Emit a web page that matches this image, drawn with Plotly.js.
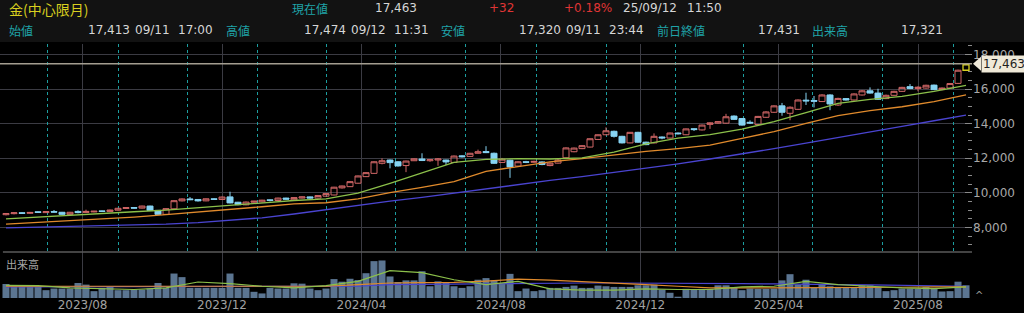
<!DOCTYPE html>
<html>
<head>
<meta charset="utf-8">
<script src="https://cdn.plot.ly/plotly-3.0.1.min.js"></script>
<style>
html,body{margin:0;padding:0;background:#000;}
#chart{width:1024px;height:313px;}
</style>
</head>
<body>
<div id="chart"></div>
<script>
// ---------------- DATA ----------------
const firstWeek = '2023-05-26';   // first weekly bar (week ending Friday)
const weekCount = 121;

const opens = [8740,8800,8850,8820,8910,8860,8920,8880,8760,8930,8870,8900,8960,8920,9000,9100,9150,9120,9240,8990,8760,9080,9540,9650,9620,9540,9660,9620,9770,9460,9310,9460,9480,9600,9560,9700,9600,9700,9770,9700,9810,9880,10290,10360,10560,10940,11130,11710,11900,11800,11580,11860,11960,11860,11900,11900,11760,12140,12110,12290,12390,12290,11760,11890,11550,11800,11770,11790,11580,11720,12030,12380,12560,12650,13090,13360,13560,13270,12890,13500,12930,12890,13230,13170,13460,13360,13710,13640,13960,14030,14030,14440,14300,14080,13950,14370,14660,15030,14600,14830,15360,15340,15280,15660,15080,15450,15370,15660,15900,15770,15450,15640,15870,16140,16030,16060,16230,15970,16060,16330,17090];
const highs = [8840,8880,8880,8900,8930,8950,9010,8900,8900,8990,9030,8960,8980,9030,9140,9170,9170,9260,9260,9010,9110,9580,9680,9760,9640,9680,9690,9790,10070,9480,9500,9540,9600,9620,9720,9720,9760,9790,9790,9870,9980,10350,10420,10680,11000,11200,11830,12000,11930,11830,11860,11990,12290,11950,12010,11920,12160,12170,12310,12500,12700,12330,12020,11920,11830,11850,11860,11820,11750,11960,12630,12620,12760,13150,13380,13790,13600,13300,13520,13530,12960,13440,13260,13480,13490,13720,13730,13950,14080,14150,14570,14480,14330,14190,14450,14720,15060,15200,15000,15400,15790,15600,15700,15700,15500,15480,15750,15950,16100,16020,15680,15900,16130,16290,16160,16250,16260,16090,16340,17120,17474];
const lows = [8700,8760,8790,8790,8850,8840,8870,8740,8740,8820,8850,8880,8900,8900,8980,9080,9090,9100,8960,8740,8740,9060,9510,9580,9500,9520,9600,9600,9400,9290,9290,9430,9450,9510,9540,9620,9580,9680,9680,9690,9790,9860,10250,10340,10540,10920,11100,11650,11420,11520,11200,11840,11840,11800,11570,11610,11740,12050,12090,12270,12300,11680,11740,10870,11520,11720,11740,11600,11540,11700,12010,12350,12530,12630,13060,13330,13200,12860,12870,12900,12760,12860,13100,13150,13380,13340,13580,13610,13700,14000,14000,14220,13890,13980,13880,14340,14630,14460,14200,14800,15080,14940,15250,14780,15030,15340,15340,15630,15740,15380,15420,15610,15840,16000,15870,16030,15940,15940,16040,16300,17050];
const closes = [8810,8850,8820,8870,8870,8920,8890,8760,8880,8860,8930,8940,8930,9010,9110,9150,9120,9240,8980,8760,9090,9550,9650,9610,9540,9660,9620,9760,9420,9320,9470,9520,9580,9560,9700,9640,9730,9770,9700,9850,9960,10330,10400,10650,10980,11170,11800,11860,11750,11560,11840,11970,11870,11920,11960,11790,12130,12090,12290,12380,12330,11710,11950,11500,11800,11770,11820,11640,11720,11900,12600,12590,12730,13130,13360,13590,13270,12890,13500,12930,12790,13270,13180,13460,13420,13700,13660,13920,14050,14120,14400,14250,13920,14040,14420,14680,15030,14660,14950,15370,15320,15300,15660,15140,15460,15370,15720,15900,15770,15410,15640,15870,16100,16030,16110,16220,15970,16060,16320,17090,17463];
const volumes = [86000,72000,72000,72000,72000,48000,58000,58000,58000,92000,82000,42000,62000,68000,48000,48000,52000,52000,58000,92000,62000,150000,128000,62000,62000,62000,62000,62000,150000,62000,62000,38000,28000,62000,58000,58000,90000,88000,58000,48000,58000,116000,100000,118000,110000,152000,226000,230000,132000,98000,108000,108000,164000,72000,102000,92000,72000,62000,72000,112000,122000,108000,88000,148000,42000,58000,42000,48000,62000,62000,68000,76000,62000,62000,76000,72000,68000,68000,68000,78000,78000,82000,52000,32000,8000,56000,52000,56000,56000,78000,78000,62000,48000,58000,56000,56000,58000,108000,146000,82000,112000,62000,82000,72000,68000,62000,62000,78000,78000,68000,42000,48000,58000,58000,56000,68000,62000,40000,42000,100000,78000];

// moving averages read every 4th bar
const maStep = 4;
const ma13 = [8500,8610,8720,8820,8910,9000,9140,9260,9420,9560,9650,9980,10550,11170,11770,11940,11980,11960,12020,12360,12830,13170,13370,13680,14120,14640,15180,15410,15580,15870,16220];
const ma26 = [8200,8290,8380,8490,8600,8740,8880,9050,9200,9360,9430,9650,10010,10320,10650,11250,11510,11790,11980,12210,12400,12560,12760,13150,13540,14020,14460,14750,14980,15270,15660];
const ma52 = [7980,8020,8060,8090,8130,8190,8280,8400,8560,8780,9040,9300,9520,9740,9990,10240,10480,10720,10940,11180,11420,11680,11960,12240,12560,12880,13190,13510,13840,14170,14500];
const volMaShort = [78000,76000,62000,56000,52000,62000,98000,88000,72000,62000,76000,102000,168000,156000,112000,82000,102000,56000,48000,48000,56000,52000,52000,68000,72000,102000,82000,72000,62000,58000,68000];
const volMaMid = [72000,72000,72000,70000,70000,68000,70000,72000,72000,72000,72000,82000,92000,94000,96000,104000,116000,110000,102000,94000,82000,72000,62000,62000,62000,62000,64000,66000,66000,68000,68000];
const volMaLong = [68000,68000,68000,68000,68000,68000,68000,68000,68000,68000,68000,72000,82000,84000,86000,86000,92000,92000,92000,92000,92000,90000,88000,88000,86000,86000,82000,80000,76000,74000,72000];

const currentPrice = 17463;
const header = {
  title: '金(中心限月)',
  nowLabel: '現在値', now: '17,463', change: '+32', changePct: '+0.18%', stamp: ['25/09/12', '11:50'],
  openLabel: '始値', open: ['17,413', '09/11', '17:00'],
  highLabel: '高値', high: ['17,474', '09/12', '11:31'],
  lowLabel: '安値', low: ['17,320', '09/11', '23:44'],
  prevLabel: '前日終値', prev: '17,431',
  volLabel: '出来高', vol: '17,321'
};

// ---------------- BUILD ----------------
const DAY = 864e5;
const t0 = Date.parse(firstWeek + 'T00:00:00Z');
const dates = [];
for (let i = 0; i < weekCount; i++) dates.push(new Date(t0 + i * 7 * DAY).toISOString().slice(0, 10));
const maDates = dates.filter((d, i) => i % maStep === 0);
const xRange = [t0 - 5.25 * DAY, t0 + (weekCount - 1) * 7 * DAY + 5.25 * DAY];

const W = 1024, H = 313, ML = 0, MR = 52, MT = 44, MB = 15;
const PW = W - ML - MR, PH = H - MT - MB;
const px = x => (x - ML) / PW;
const py = y => (H - MB - y) / PH;
const splitY = py(252);

const last = weekCount - 1;
const onlyPast = arr => arr.map((v, i) => (i < last ? v : null));
const onlyLast = arr => arr.map((v, i) => (i === last ? v : null));

const traces = [
  {type: 'candlestick', x: dates, open: onlyPast(opens), high: onlyPast(highs), low: onlyPast(lows), close: onlyPast(closes),
   xaxis: 'x', yaxis: 'y', whiskerwidth: 0,
   increasing: {line: {color: '#cf6666', width: 1}, fillcolor: 'rgba(0,0,0,0)'},
   decreasing: {line: {color: '#86d3f2', width: 1}, fillcolor: '#86d3f2'},
   hoverinfo: 'skip', showlegend: false},
  {type: 'candlestick', x: dates, open: onlyLast(opens), high: onlyLast(highs), low: onlyLast(lows), close: onlyLast(closes),
   xaxis: 'x', yaxis: 'y', whiskerwidth: 0,
   increasing: {line: {color: '#d8d020', width: 1.3}, fillcolor: 'rgba(0,0,0,0)'},
   decreasing: {line: {color: '#d8d020', width: 1.3}, fillcolor: 'rgba(0,0,0,0)'},
   hoverinfo: 'skip', showlegend: false},
  {type: 'scatter', mode: 'lines', x: maDates, y: ma52, xaxis: 'x2', yaxis: 'y', line: {color: '#4a44d0', width: 1.3}, hoverinfo: 'skip', showlegend: false},
  {type: 'scatter', mode: 'lines', x: maDates, y: ma26, xaxis: 'x2', yaxis: 'y', line: {color: '#e08a2c', width: 1.3}, hoverinfo: 'skip', showlegend: false},
  {type: 'scatter', mode: 'lines', x: maDates, y: ma13, xaxis: 'x2', yaxis: 'y', line: {color: '#8cc04a', width: 1.3}, hoverinfo: 'skip', showlegend: false},
  {type: 'bar', x: dates, y: volumes, xaxis: 'x', yaxis: 'y2', marker: {color: '#5b7591', line: {width: 0}}, hoverinfo: 'skip', showlegend: false},
  {type: 'scatter', mode: 'lines', x: maDates, y: volMaLong, xaxis: 'x', yaxis: 'y2', line: {color: '#4a44d0', width: 1.2}, hoverinfo: 'skip', showlegend: false},
  {type: 'scatter', mode: 'lines', x: maDates, y: volMaMid, xaxis: 'x', yaxis: 'y2', line: {color: '#e08a2c', width: 1.2}, hoverinfo: 'skip', showlegend: false},
  {type: 'scatter', mode: 'lines', x: maDates, y: volMaShort, xaxis: 'x', yaxis: 'y2', line: {color: '#8cc04a', width: 1.2}, hoverinfo: 'skip', showlegend: false}
];

const TEAL = '#1fa3a8', VAL = '#d6d6d6', RED = '#e03535';
const JP = 'Noto Sans CJK JP, DejaVu Sans, sans-serif';
const NUM = 'DejaVu Sans, sans-serif';
function ann(text, x, y, color, size, family, extra) {
  return Object.assign({text: text, xref: 'paper', yref: 'paper', x: px(x), y: py(y), xanchor: 'left', yanchor: 'middle',
    showarrow: false, font: {color: color, size: size, family: family}}, extra || {});
}
const annotations = [
  ann(header.title, 7, 9, '#d9cf1f', 14, JP),
  ann(header.nowLabel, 290, 8, TEAL, 12, JP),
  ann(header.now, 373, 8, VAL, 12, NUM),
  ann(header.change, 487, 8, RED, 12, NUM),
  ann(header.changePct, 562, 8, RED, 12, NUM),
  ann(header.stamp[0], 621, 8, VAL, 12, NUM),
  ann(header.stamp[1], 685, 8, VAL, 12, NUM),
  ann(header.openLabel, 7, 30, TEAL, 12, JP),
  ann(header.open[0], 86, 30, VAL, 12, NUM),
  ann(header.open[1], 133, 30, VAL, 12, NUM),
  ann(header.open[2], 176, 30, VAL, 12, NUM),
  ann(header.highLabel, 224, 30, TEAL, 12, JP),
  ann(header.high[0], 302, 30, VAL, 12, NUM),
  ann(header.high[1], 349, 30, VAL, 12, NUM),
  ann(header.high[2], 392, 30, VAL, 12, NUM),
  ann(header.lowLabel, 439, 30, TEAL, 12, JP),
  ann(header.low[0], 517, 30, VAL, 12, NUM),
  ann(header.low[1], 564, 30, VAL, 12, NUM),
  ann(header.low[2], 607, 30, VAL, 12, NUM),
  ann(header.prevLabel, 655, 30, TEAL, 12, JP),
  ann(header.prev, 756, 30, VAL, 12, NUM),
  ann(header.volLabel, 810, 30, TEAL, 12, JP),
  ann(header.vol, 899, 30, VAL, 12, NUM),
  ann('出来高', 4, 264, '#a8a8a8', 11, JP),
  ann('^', 973, 295, '#9a9a9a', 10, NUM),
  {text: currentPrice.toLocaleString('en-US'), xref: 'paper', yref: 'y', x: px(981), y: currentPrice, xanchor: 'left', yanchor: 'middle',
   showarrow: false, bgcolor: '#efe9d8', borderpad: 1, font: {color: '#1e1e1e', size: 12, family: NUM}}
];

const shapes = [
  {type: 'rect', xref: 'paper', yref: 'paper', x0: -0.01, x1: px(W) + 0.01, y0: py(42), y1: py(-2), fillcolor: '#121212', line: {width: 0}, layer: 'below'},
  {type: 'line', xref: 'paper', yref: 'y', x0: 0, x1: 1, y0: currentPrice, y1: currentPrice, line: {color: '#a39d90', width: 1.6}},
  {type: 'path', xref: 'paper', yref: 'y', xsizemode: 'pixel', ysizemode: 'pixel', xanchor: 1, yanchor: currentPrice,
   path: 'M 1 0 L 9 7 L 9 -7 Z', fillcolor: '#efe9d8', line: {width: 0}},
  {type: 'line', xref: 'paper', yref: 'paper', x0: 0.003, x1: 1, y0: splitY, y1: splitY, line: {color: '#5a5a5a', width: 1.5}}
];

const GRID = '#3b3b43';
const layout = {
  width: W, height: H,
  margin: {l: ML, r: MR, t: MT, b: MB, pad: 0},
  paper_bgcolor: '#000', plot_bgcolor: '#000',
  showlegend: false, bargap: 0.12,
  boxmode: 'overlay', boxgap: 0.25, boxgroupgap: 0,
  xaxis: {type: 'date', range: xRange, anchor: 'y2', domain: [0, 1], dtick: 'M4', tick0: '2023-08-01', tickformat: '%Y/%m',
          showgrid: true, gridcolor: GRID, gridwidth: 1, zeroline: false, showline: false, ticks: '',
          ticklabelstandoff: -2,
          tickfont: {color: '#a2a2a2', size: 12, family: NUM}, rangeslider: {visible: false}, fixedrange: true},
  xaxis2: {type: 'date', range: xRange, overlaying: 'x', anchor: 'y', dtick: 'M2', tick0: '2023-07-01', showticklabels: false, ticks: '',
           showgrid: true, gridcolor: '#1c9ea0', griddash: 'dot', gridwidth: 1, zeroline: false, showline: false},
  yaxis: {domain: [splitY, 1], range: [6584, 18606], side: 'right', anchor: 'x', dtick: 2000, tick0: 0, tickformat: ',d',
          showgrid: true, gridcolor: GRID, gridwidth: 1, zeroline: false, showline: false,
          ticks: 'inside', ticklen: 7, tickcolor: '#8a8a8a',
          minor: {dtick: 500, ticks: 'inside', ticklen: 4, tickcolor: '#8a8a8a', showgrid: false},
          tickfont: {color: '#a8a8a8', size: 12, family: NUM}},
  yaxis2: {domain: [0, splitY], range: [0, 282000], anchor: 'x', showgrid: false, zeroline: false, showticklabels: false, ticks: ''},
  annotations: annotations,
  shapes: shapes
};

Plotly.newPlot('chart', traces, layout, {staticPlot: true, displayModeBar: false});
</script>
</body>
</html>
